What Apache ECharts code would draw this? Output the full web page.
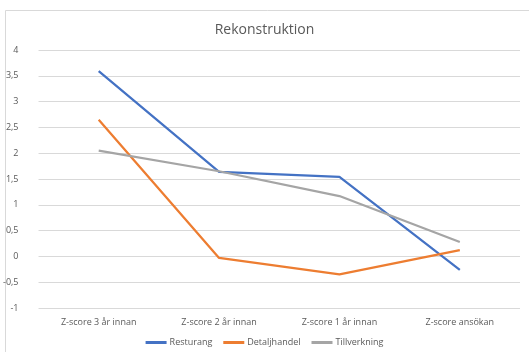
<!DOCTYPE html>
<html><head><meta charset="utf-8">
<script src="https://cdn.jsdelivr.net/npm/echarts@6/dist/echarts.min.js"></script>
<style>html,body{margin:0;padding:0;background:#fff}#c{width:529px;height:352px}</style>
</head><body><div id="c"></div>
<script>
const categories = ['Z-score 3 år innan', 'Z-score 2 år innan', 'Z-score 1 år innan', 'Z-score ansökan'];
const resturang = [3.59, 1.64, 1.54, -0.26];
const detaljhandel = [2.65, -0.03, -0.35, 0.12];
const tillverkning = [2.05, 1.65, 1.17, 0.28];
const yTicks = [-1, -0.5, 0, 0.5, 1, 1.5, 2, 2.5, 3, 3.5, 4];

const chart = echarts.init(document.getElementById('c'), null, {renderer: 'canvas'});
const font = '"Open Sans", Calibri, "Liberation Sans", sans-serif';
function mk(name, data, color) {
  return {name, type: 'line', data, symbol: 'none', smooth: false,
    lineStyle: {color, width: 2.25}, itemStyle: {color}};
}
chart.setOption({
  animation: false,
  backgroundColor: '#fff',
  graphic: [{type: 'rect', shape: {x: 5.5, y: 10.5, width: 540, height: 360},
    style: {fill: 'none', stroke: '#d9d9d9', lineWidth: 1}, silent: true}],
  title: {text: 'Rekonstruktion', left: 'center', top: 18,
    textStyle: {fontFamily: font, fontSize: 14, fontWeight: 'normal', color: '#595959'}},
  legend: {bottom: 0, left: 'center', itemWidth: 21, itemHeight: 3, itemGap: 11, icon: 'rect',
    textStyle: {fontFamily: font, fontSize: 9, color: '#595959', padding: [0, 0, 0, -2]},
    data: ['Resturang', 'Detaljhandel', 'Tillverkning']},
  grid: {left: 37, right: 9, top: 50, bottom: 44, containLabel: false},
  xAxis: {type: 'category', data: categories, boundaryGap: true,
    axisLine: {show: false}, axisTick: {show: false},
    axisLabel: {fontFamily: font, fontSize: 9, color: '#595959', margin: 10}},
  yAxis: {type: 'value', min: -1, max: 4, interval: 0.5,
    axisLine: {show: false}, axisTick: {show: false},
    splitLine: {lineStyle: {color: '#d9d9d9', width: 1}},
    axisLabel: {fontFamily: font, fontSize: 9, color: '#595959', margin: 20,
      formatter: v => String(v).replace('.', ',')}},
  series: [mk('Resturang', resturang, '#4472C4'), mk('Detaljhandel', detaljhandel, '#ED7D31'),
    mk('Tillverkning', tillverkning, '#A5A5A5')]
});
</script></body></html>
